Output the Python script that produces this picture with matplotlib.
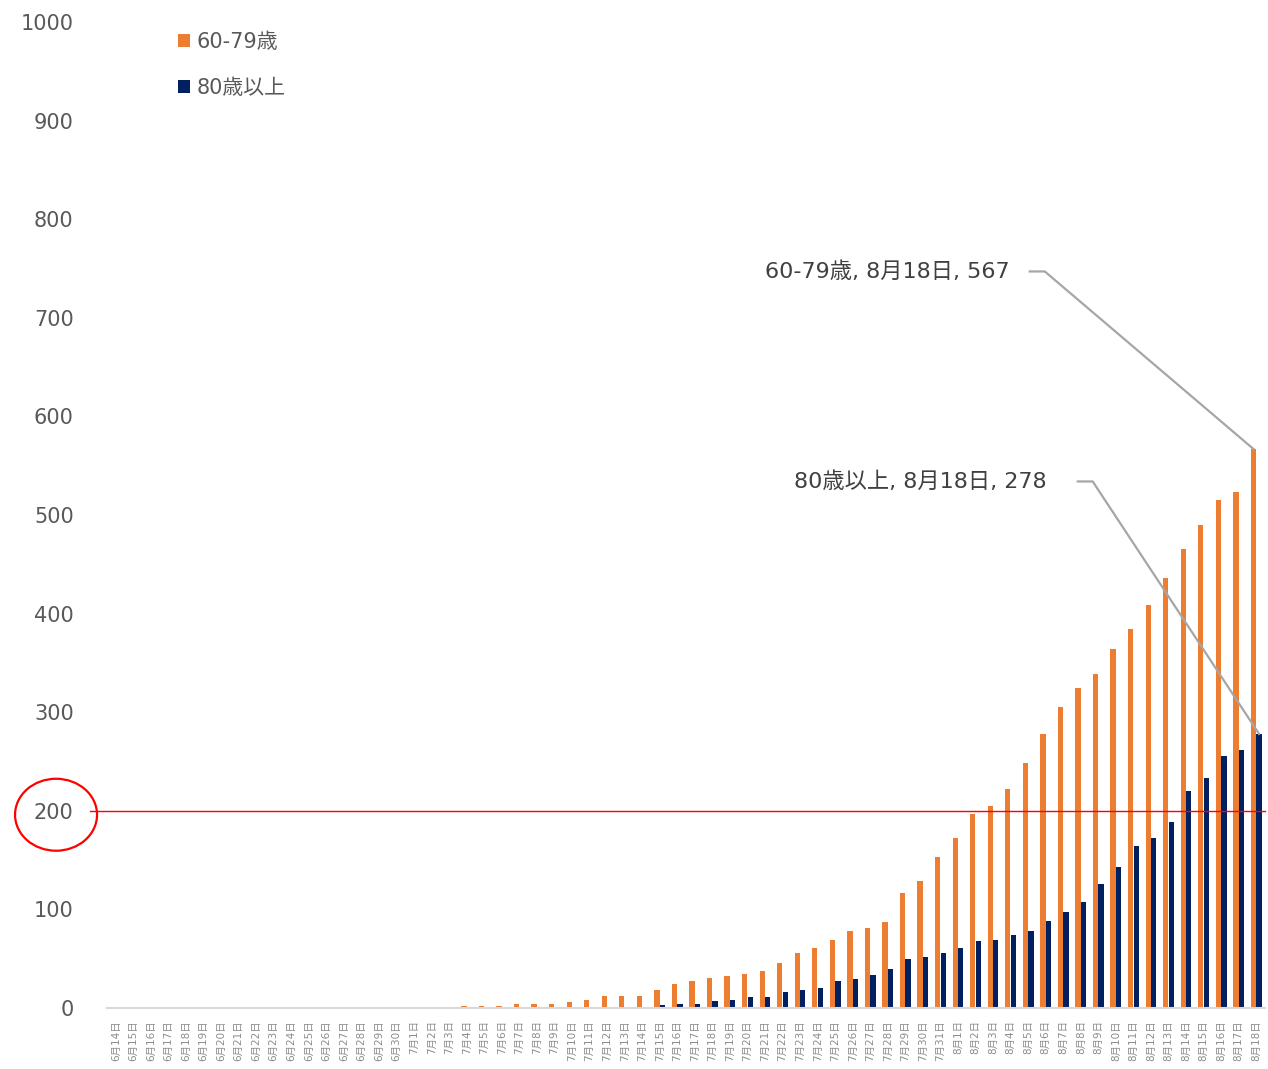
import pandas as pd
import matplotlib.pyplot as plt
import matplotlib.patches as patches
import matplotlib.transforms as mtransforms

# Latin glyphs from DejaVu (wide, Meiryo-like), kana/kanji from Noto CJK
plt.rcParams['font.family'] = ['DejaVu Sans', 'Noto Sans CJK JP']

# daily counts, 6/14 - 8/18
days = pd.date_range("2020-06-14", "2020-08-18", freq="D")
date_labels = [f"{d.month}月{d.day}日" for d in days]

age_60_79 = [0] * 20 + [
    2, 2, 2, 4, 4, 4, 6, 8, 12, 12, 12, 18, 24, 27, 30, 32, 34, 38, 46, 56,
    61, 69, 78, 81, 87, 117, 129, 153,
    172, 197, 205, 222, 248, 278, 305, 325, 339, 364, 384, 409, 436, 466,
    490, 515, 523, 567,
]
age_80_plus = [0] * 31 + [
    3, 4, 4, 7, 8, 11, 11, 16, 18, 20, 27, 29, 33, 40, 50, 52, 56,
    61, 68, 69, 74, 78, 88, 97, 107, 126, 143, 164, 172, 189, 220,
    233, 256, 262, 278,
]
series_names = ["60-79歳", "80歳以上"]
colors = ["#ED7D31", "#002060"]
marker_level = 200

fig = plt.figure(figsize=(12.68, 10.69), dpi=100)
ax = fig.add_axes([107 / 1268, 61 / 1069, 1158 / 1268, 986 / 1069])

x = list(range(len(date_labels)))
w = 0.3
off = 0.16
ax.bar([i - off for i in x], age_60_79, width=w, color=colors[0], label=series_names[0])
ax.bar([i + off for i in x], age_80_plus, width=w, color=colors[1], label=series_names[1])

ax.set_xlim(-0.5, len(x) - 0.5)
ax.set_ylim(0, 1000)
ax.set_yticks(range(0, 1001, 100))
ax.tick_params(axis='y', length=0, pad=24, labelsize=15, labelcolor='#595959')
ax.set_xticks(x)
ax.set_xticklabels(date_labels, rotation=90, fontsize=7.5, color='#8c8c8c')
ax.tick_params(axis='x', length=0, pad=9)
for s in ['top', 'right', 'left']:
    ax.spines[s].set_visible(False)
ax.spines['bottom'].set_color('#d9d9d9')
ax.spines['bottom'].set_linewidth(1.5)

# threshold line and highlighted tick label
ax.axhline(marker_level, xmin=-0.015, xmax=1.0, color='red', lw=1, clip_on=False, zorder=3)
blend = mtransforms.blended_transform_factory(ax.transAxes, ax.transData)
ax.add_patch(patches.Ellipse((-0.044, marker_level - 4), width=82 / 1158, height=73,
                             transform=blend, fill=False, edgecolor='red', lw=1.6,
                             clip_on=False))

# data labels for the last day, with leader lines
last = len(x) - 1
labels = [
    (age_60_79[last], last - off, 50.95, 747, 52.09, 52.95),
    (age_80_plus[last], last + off, 53.06, 534, 54.83, 55.68),
]
for (val, bx, tx, ty, l0, l1), name in zip(labels, series_names):
    ax.text(tx, ty, f"{name}, {date_labels[last]}, {val}", ha='right', va='center',
            fontsize=16, color='#404040')
    ax.plot([l0, l1, bx], [ty, ty, val], color='#a6a6a6', lw=1.6, zorder=4)

ax.legend(loc='upper left', bbox_to_anchor=(0.045, 1.009), frameon=False,
          fontsize=15, handlelength=0.6, handleheight=0.6, handletextpad=0.3,
          labelspacing=1.25, labelcolor='#595959')

fig.savefig("out.png", dpi=100)
